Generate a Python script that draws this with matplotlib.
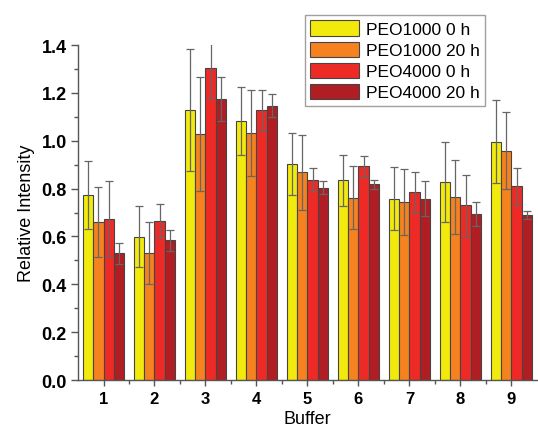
import matplotlib
matplotlib.use("Agg")
import matplotlib.pyplot as plt
import numpy as np
from matplotlib.ticker import MultipleLocator, FixedLocator

plt.rcParams["font.family"] = ["Liberation Sans", "DejaVu Sans"]

buffers = ["1", "2", "3", "4", "5", "6", "7", "8", "9"]
series_names = ["PEO1000 0 h", "PEO1000 20 h", "PEO4000 0 h", "PEO4000 20 h"]
peo1000_0h = [0.773, 0.599, 1.129, 1.082, 0.903, 0.835, 0.758, 0.827, 0.997]
peo1000_20h = [0.661, 0.531, 1.029, 1.033, 0.868, 0.762, 0.745, 0.765, 0.958]
peo4000_0h = [0.674, 0.666, 1.306, 1.128, 0.838, 0.894, 0.785, 0.731, 0.811]
peo4000_20h = [0.529, 0.585, 1.175, 1.147, 0.804, 0.818, 0.758, 0.695, 0.690]
err1000_0h = [0.142, 0.128, 0.254, 0.142, 0.131, 0.107, 0.131, 0.166, 0.175]
err1000_20h = [0.147, 0.128, 0.238, 0.180, 0.158, 0.132, 0.138, 0.153, 0.161]
err4000_0h = [0.156, 0.069, 0.128, 0.086, 0.047, 0.044, 0.086, 0.128, 0.074]
err4000_20h = [0.044, 0.044, 0.092, 0.047, 0.026, 0.018, 0.072, 0.051, 0.017]

values = [peo1000_0h, peo1000_20h, peo4000_0h, peo4000_20h]
errors = [err1000_0h, err1000_20h, err4000_0h, err4000_20h]
colors = ["#F2EA0C", "#F5821F", "#EE2A26", "#B01E23"]

fig = plt.figure(figsize=(5.38, 4.31), dpi=100)
ax = fig.add_axes([0.145, 0.116, 0.853, 0.777])

x = np.arange(1, len(buffers) + 1)
w = 0.2
for i, (vals, errs, c, name) in enumerate(zip(values, errors, colors, series_names)):
    pos = x + (i - 1.5) * w
    ax.bar(pos, vals, width=w, color=c, edgecolor="#454545", linewidth=0.8,
           label=name, zorder=2)
    ax.errorbar(pos, vals, yerr=errs, fmt="none", ecolor="#666666",
                elinewidth=0.9, capsize=3, capthick=0.9, zorder=3)

ax.set_xlim(0.5, 9.5)
ax.set_ylim(0, 1.4)
ax.yaxis.set_major_locator(MultipleLocator(0.2))
ax.yaxis.set_minor_locator(MultipleLocator(0.1))
ax.set_xticks(x)
ax.set_xticklabels(buffers)
ax.xaxis.set_minor_locator(FixedLocator(np.arange(1.5, 9.5, 1.0)))
ax.yaxis.set_major_formatter(matplotlib.ticker.FormatStrFormatter("%.1f"))

for s in ["top", "right"]:
    ax.spines[s].set_visible(False)
for s in ["left", "bottom"]:
    ax.spines[s].set_color("#555555")
    ax.spines[s].set_linewidth(1.0)

ax.tick_params(axis="y", which="major", length=5, width=1, color="#555555",
               labelsize=13, pad=3)
ax.tick_params(axis="y", which="minor", length=3, width=1, color="#555555")
ax.tick_params(axis="x", which="major", length=4, width=1, color="#555555",
               labelsize=12, pad=4)
ax.tick_params(axis="x", which="minor", length=3, width=1, color="#555555")
for lab in ax.get_xticklabels() + ax.get_yticklabels():
    lab.set_fontweight("bold")

ax.set_ylabel("Relative Intensity", fontsize=13, labelpad=5)
ax.set_xlabel("Buffer", fontsize=13, labelpad=3)

leg = ax.legend(loc="upper right", bbox_to_anchor=(0.905, 1.115), fontsize=12.5,
                frameon=True, fancybox=False, edgecolor="#888888",
                handlelength=2.8, handleheight=1.0, labelspacing=0.25,
                borderpad=0.3, handletextpad=0.4)
leg.get_frame().set_linewidth(1.0)

fig.savefig("out.png", dpi=100)
